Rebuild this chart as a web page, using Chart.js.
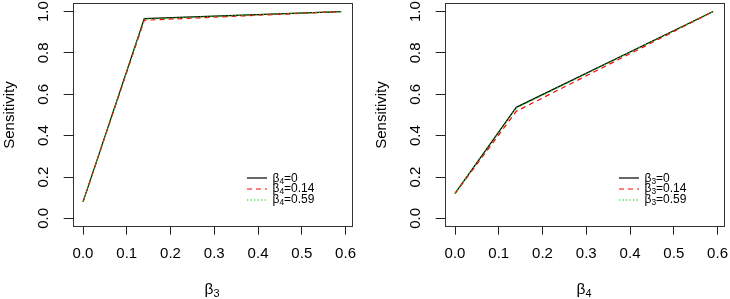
<!DOCTYPE html>
<html>
<head>
<meta charset="utf-8">
<script src="https://cdn.jsdelivr.net/npm/chart.js@4"></script>
<style>
    body { margin: 0; background: #fff; font-family: "Liberation Sans", Arial, sans-serif; }
    #wrap { position: relative; width: 730px; height: 299px; overflow: hidden; }
    .panel { position: absolute; top: 0; width: 358px; height: 299px; }
    .xtitle { position: absolute; top: 280px; width: 60px; text-align: center; font-size: 15.5px; color: #000; }
    .xtitle sub, .leg sub { font-size: 70%; vertical-align: -0.25em; line-height: 0; }
    .leg { position: absolute; font-size: 12px; color: #000; white-space: nowrap; line-height: 11px; }
    .leg svg { display: inline-block; vertical-align: middle; margin-right: 6px; }
</style>
</head>
<body>
<div id="wrap">
    <div class="panel" style="left:0"><canvas id="left"></canvas></div>
    <div class="panel" style="left:372px"><canvas id="right"></canvas></div>
</div>
<script>
const xValues = [0, 0.14, 0.59];
const xTicks = [0, 0.1, 0.2, 0.3, 0.4, 0.5, 0.6];
const yTicks = [0, 0.2, 0.4, 0.6, 0.8, 1.0];

// left panel: sensitivity vs beta3, one line per beta4
const leftSolid = [0.080, 0.966, 1.0];
const leftDashed = [0.080, 0.958, 1.0];
const leftDotted = [0.080, 0.964, 1.0];

// right panel: sensitivity vs beta4, one line per beta3
const rightSolid = [0.121, 0.537, 1.0];
const rightDashed = [0.120, 0.518, 1.0];
const rightDotted = [0.121, 0.534, 1.0];

const legendValues = ["0", "0.14", "0.59"];

const FONT = '"Liberation Sans", Arial, sans-serif';

const boxPlugin = {
    id: "box",
    afterDraw(chart) {
        const a = chart.chartArea;
        const ctx = chart.ctx;
        ctx.save();
        ctx.strokeStyle = "#333";
        ctx.lineWidth = 1;
        ctx.strokeRect(Math.round(a.left) + 0.5, Math.round(a.top) + 0.5,
            Math.round(a.right - a.left), Math.round(a.bottom - a.top));
        ctx.restore();
    }
};

function pts(ys) {
    return xValues.map((x, i) => ({ x, y: ys[i] }));
}

function noPad(s) {
    s.paddingLeft = 0;
    s.paddingRight = 0;
    s.paddingTop = 0;
    s.paddingBottom = 0;
}

function makePanel(id, solid, dashed, dotted) {
    new Chart(document.getElementById(id), {
        type: "line",
        data: {
            datasets: [
                { data: pts(solid), borderColor: "#000", borderWidth: 1.2, pointRadius: 0, order: 3 },
                { data: pts(dashed), borderColor: "#ff0000", borderWidth: 1.2, borderDash: [5, 4], pointRadius: 0, order: 2 },
                { data: pts(dotted), borderColor: "#00cd00", borderWidth: 1.2, borderDash: [1.3, 2.2], pointRadius: 0, order: 1 }
            ]
        },
        options: {
            animation: false,
            responsive: true,
            maintainAspectRatio: false,
            layout: { padding: { top: 3.3, right: 6.5, left: 0, bottom: 0 } },
            plugins: { legend: { display: false }, tooltip: { enabled: false } },
            elements: { line: { tension: 0 } },
            scales: {
                x: {
                    type: "linear",
                    min: -0.0236,
                    max: 0.6136,
                    afterBuildTicks: s => { s.ticks = xTicks.map(v => ({ value: v })); },
                    afterFit: s => { s.height = 72.3; noPad(s); },
                    ticks: {
                        callback: v => v.toFixed(1),
                        font: { family: FONT, size: 15 },
                        color: "#000",
                        padding: 10,
                        maxRotation: 0,
                        autoSkip: false
                    },
                    grid: { drawOnChartArea: false, drawTicks: true, tickLength: 8, tickColor: "#222", tickWidth: 1 },
                    border: { display: false }
                },
                y: {
                    min: -0.04,
                    max: 1.04,
                    afterBuildTicks: s => { s.ticks = yTicks.map(v => ({ value: v })); },
                    afterFit: s => { s.width = 72.7; noPad(s); },
                    ticks: {
                        callback: v => v.toFixed(1),
                        font: { family: FONT, size: 15 },
                        color: "#000",
                        padding: 9,
                        minRotation: 90,
                        maxRotation: 90,
                        crossAlign: "center",
                        autoSkip: false
                    },
                    title: {
                        display: true,
                        text: "Sensitivity",
                        font: { family: FONT, size: 15 },
                        color: "#000",
                        padding: { top: 1, bottom: 0 }
                    },
                    grid: { drawOnChartArea: false, drawTicks: true, tickLength: 9, tickColor: "#222", tickWidth: 1 },
                    border: { display: false }
                }
            }
        },
        plugins: [boxPlugin]
    });
}

makePanel("left", leftSolid, leftDashed, leftDotted);
makePanel("right", rightSolid, rightDashed, rightDotted);

// axis titles and legends (with subscripts) as HTML
const wrap = document.getElementById("wrap");
function addXTitle(centerX, sub) {
    const d = document.createElement("div");
    d.className = "xtitle";
    d.style.left = (centerX - 30) + "px";
    d.innerHTML = "&beta;<sub>" + sub + "</sub>";
    wrap.appendChild(d);
}
addXTitle(212, "3");
addXTitle(584, "4");

const legStyles = [
    { color: "#000", dash: "" },
    { color: "#ff0000", dash: "5,4" },
    { color: "#00cd00", dash: "1.3,2.2" }
];
function addLegend(lineX, sub) {
    legendValues.forEach((v, i) => {
        const d = document.createElement("div");
        d.className = "leg";
        d.style.left = lineX + "px";
        d.style.top = (172.5 + i * 10.9) + "px";
        const s = legStyles[i];
        d.innerHTML = '<svg width="20" height="6"><line x1="0" y1="3" x2="20" y2="3" stroke="' + s.color +
            '" stroke-width="1.2" stroke-dasharray="' + s.dash + '"/></svg>&beta;<sub>' + sub + "</sub>=" + v;
        wrap.appendChild(d);
    });
}
addLegend(246.5, "4");
addLegend(618.5, "3");
</script>
</body>
</html>
